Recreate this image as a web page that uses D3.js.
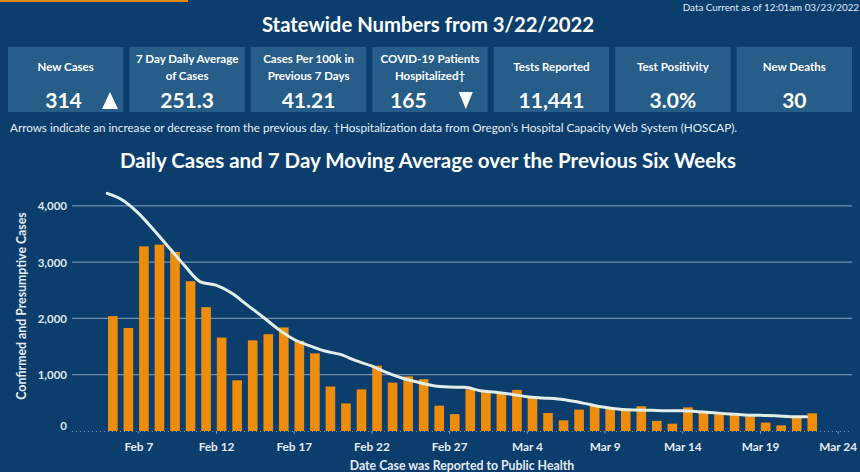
<!DOCTYPE html>
<html><head><meta charset="utf-8">
<script src="https://cdn.jsdelivr.net/npm/d3@7"></script>
<style>
html,body{margin:0;padding:0;background:#0b3e6c;}
svg{display:block;}
text{font-family:Lato,"Open Sans",sans-serif;}
</style></head>
<body>
<svg id="c" width="860" height="472"></svg>
<script>
// ---- data ----
const kpiTitles = [["New Cases"],["7 Day Daily Average","of Cases"],["Cases Per 100k in","Previous 7 Days"],["COVID-19 Patients","Hospitalized†"],["Tests Reported"],["Test Positivity"],["New Deaths"]];
const kpiValues = ["314","251.3","41.21","165","11,441","3.0%","30"];
const kpiArrows = ["up",null,null,"down",null,null,null];
const startDate = "2022-02-05";
const dailyCases = [2040,1830,3280,3310,3180,2660,2200,1660,900,1610,1720,1840,1600,1380,790,490,740,1160,860,970,920,450,300,740,690,660,730,600,320,190,380,450,410,370,440,180,130,420,330,300,290,260,150,100,250,314];
const movingAvg = [4220,4100,3870,3570,3250,2930,2650,2590,2450,2240,2030,1810,1630,1515,1420,1360,1250,1155,1036,936,865,805,782,776,716,687,652,609,586,568,527,474,420,385,373,367,361,361,343,325,302,284,278,272,254,251];
const yTicks = [0,1000,2000,3000,4000];
const xTickLabels = ["Feb 7","Feb 12","Feb 17","Feb 22","Feb 27","Mar 4","Mar 9","Mar 14","Mar 19","Mar 24"];

const svg = d3.select("#c");
const W = 860, H = 472;
svg.append("rect").attr("width",W).attr("height",H).attr("fill","#0b3e6c");
svg.append("rect").attr("x",0).attr("y",0).attr("width",188).attr("height",2).attr("fill","#e08a12");

svg.append("text").attr("x",859).attr("y",11).attr("text-anchor","end").attr("fill","#e6ecf2")
  .attr("font-size",9.8).text("Data Current as of 12:01am 03/23/2022");
svg.append("text").attr("x",428).attr("y",32).attr("text-anchor","middle").attr("fill","#ffffff")
  .attr("font-size",20.3).attr("font-weight","bold").text("Statewide Numbers from 3/22/2022");

// KPI boxes
const bx = d3.scaleBand().domain(d3.range(kpiValues.length)).range([8,852]).paddingInner(0.05).paddingOuter(0);
const g = svg.append("g");
kpiValues.forEach((v,i)=>{
  const x0 = bx(i), w = bx.bandwidth();
  g.append("rect").attr("x",x0).attr("y",47).attr("width",w).attr("height",65).attr("fill","#265d89");
  const t = kpiTitles[i];
  t.forEach((line,j)=>{
    const y = t.length===1 ? 71 : 63 + j*16.5;
    g.append("text").attr("x",x0+w/2).attr("y",y).attr("text-anchor","middle").attr("fill","#ffffff")
      .attr("font-size",11.5).attr("font-weight","bold").text(line);
  });
  let vx = x0+w/2;
  if (kpiArrows[i]==="up") vx = x0+55.5;
  if (kpiArrows[i]==="down") vx = x0+36;
  g.append("text").attr("x",vx).attr("y",108).attr("text-anchor","middle").attr("fill","#ffffff")
    .attr("font-size",21).attr("font-weight","bold").text(v);
  if (kpiArrows[i]) {
    const ax = kpiArrows[i]==="up" ? x0+102 : x0+93.5;
    const pts = kpiArrows[i]==="up"
      ? [[ax-8,109],[ax+8,109],[ax,92]]
      : [[ax-7,92],[ax+7,92],[ax,109]];
    g.append("path").attr("d","M"+pts.map(p=>p.join(",")).join("L")+"Z").attr("fill","#ffffff");
  }
});

svg.append("text").attr("x",10).attr("y",132).attr("fill","#e9eef4").attr("font-size",11.7)
  .text("Arrows indicate an increase or decrease from the previous day. †Hospitalization data from Oregon’s Hospital Capacity Web System (HOSCAP).");

svg.append("text").attr("x",428).attr("y",168).attr("text-anchor","middle").attr("fill","#ffffff")
  .attr("font-size",20.5).attr("font-weight","bold").text("Daily Cases and 7 Day Moving Average over the Previous Six Weeks");

// ---- chart ----
const parse = d3.timeParse("%Y-%m-%d");
const d0 = parse(startDate);
const dates = dailyCases.map((_,i)=>d3.timeDay.offset(d0,i));
const x = d3.scaleTime().domain([parse("2022-02-07"),parse("2022-03-19")]).range([138.3,760]);
const y = d3.scaleLinear().domain([0,4000]).range([431,205.8]);
const left = 72, right = 852;

const grid = svg.append("g");
yTicks.filter(t=>t>0).forEach(t=>{
  grid.append("line").attr("x1",left).attr("x2",right).attr("y1",y(t)).attr("y2",y(t))
    .attr("stroke","#6f8fb0").attr("stroke-width",1.3);
});
svg.append("line").attr("x1",left).attr("x2",right).attr("y1",y(0)+0.5).attr("y2",y(0)+0.5)
  .attr("stroke","#6f8fb0").attr("stroke-width",1).attr("stroke-dasharray","1,3");

const yAxis = d3.axisLeft(y).tickValues(yTicks).tickFormat(d3.format(",")).tickSize(0).tickPadding(0);
const ya = svg.append("g").attr("transform","translate(67,0)").call(yAxis);
ya.select(".domain").remove();
ya.selectAll("text").attr("fill","#dfe5ee").attr("font-size",11.5).attr("font-weight","bold")
  .attr("font-family","Lato,'Open Sans',sans-serif").attr("dy","0.35em");
ya.selectAll("text").filter(d=>d===0).attr("dy","-0.1em");

const tickDates = d3.timeDay.range(parse("2022-02-07"), parse("2022-03-25"), 5);
const xAxis = d3.axisBottom(x).tickValues(tickDates).tickFormat((d,i)=>xTickLabels[i]).tickSize(3).tickPadding(9);
const xa = svg.append("g").attr("transform",`translate(0,${y(0)})`).call(xAxis);
xa.select(".domain").remove();
xa.selectAll("line").attr("stroke","#6f8fb0");
xa.selectAll("text").attr("fill","#e6ebf2").attr("font-size",11.8).attr("font-weight","bold")
  .attr("font-family","Lato,'Open Sans',sans-serif");

const barW = x(d3.timeDay.offset(d0,1)) - x(d0);
svg.append("g").selectAll("rect").data(dailyCases).join("rect")
  .attr("x",(d,i)=>x(dates[i])+0.8)
  .attr("width",barW*0.62)
  .attr("y",d=>y(d)).attr("height",d=>y(0)-y(d))
  .attr("fill","#ee8d0c");

const line = d3.line().x((d,i)=>x(dates[i])).y(d=>y(d)).curve(d3.curveMonotoneX);
svg.append("path").attr("d",line(movingAvg)).attr("fill","none").attr("stroke","#e3eee8")
  .attr("stroke-width",3).attr("stroke-linecap","round");

svg.append("text").attr("transform","translate(26,306) rotate(-90)").attr("text-anchor","middle")
  .attr("fill","#e6ebf2").attr("font-size",12.3).attr("font-weight","bold").text("Confirmed and Presumptive Cases");

svg.append("text").attr("x",462).attr("y",470).attr("text-anchor","middle").attr("fill","#e6ebf2")
  .attr("font-size",12.3).attr("font-weight","bold").text("Date Case was Reported to Public Health");
</script>
</body></html>
